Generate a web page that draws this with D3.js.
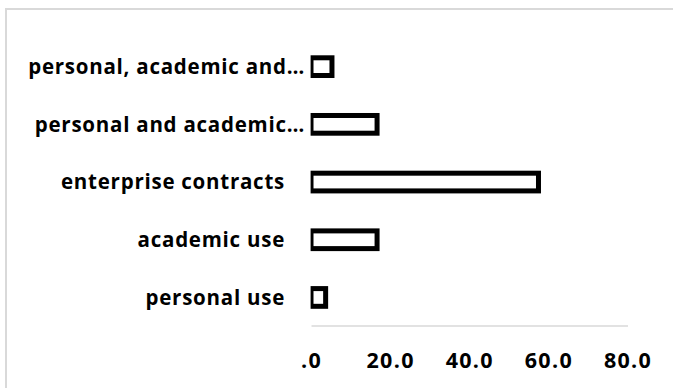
<!DOCTYPE html>
<html lang="en">
<head>
<meta charset="UTF-8">
<script src="https://d3js.org/d3.v7.min.js"></script>
<title>Usage types</title>
<style>
    body { margin: 0; background: white; }
    svg { display: block; }
    text { font-family: "Open Sans", sans-serif; font-weight: bold; fill: #000; }
</style>
</head>
<body>
<svg id="chart"></svg>
<script>
// categories top to bottom
const categories = [
    "personal, academic and…",
    "personal and academic…",
    "enterprise contracts",
    "academic use",
    "personal use"
];
const values = [5.3, 16.7, 57.5, 16.7, 3.7];
const tickValues = [0, 20, 40, 60, 80];
const tickLabels = [".0", "20.0", "40.0", "60.0", "80.0"];

const w = 673;
const h = 388;

const svg = d3.select("#chart").attr("width", w).attr("height", h);

svg.append("rect")
   .attr("width", w).attr("height", h)
   .attr("fill", "white");

// outer chart border (runs off the right and bottom of the picture)
svg.append("rect")
   .attr("x", 6).attr("y", 9)
   .attr("width", w + 20).attr("height", h + 20)
   .attr("fill", "none")
   .attr("stroke", "#d9d9d9")
   .attr("stroke-width", 2);

const x = d3.scaleLinear().domain([0, 80]).range([311, 627.5]);

const y = d3.scaleBand()
    .domain(categories)
    .range([37.8, 326.3])
    .paddingInner(0.693)
    .paddingOuter(0.3465);

// plot area clip, bars get cut at the left edge like the original
svg.append("clipPath").attr("id", "plot")
   .append("rect")
   .attr("x", x(0) - 0.4).attr("y", 0)
   .attr("width", w).attr("height", h);

const axis = d3.axisBottom(x)
    .tickValues(tickValues)
    .tickSize(0)
    .tickSizeOuter(0)
    .tickPadding(27)
    .tickFormat((d, i) => tickLabels[i]);

const gx = svg.append("g")
   .attr("transform", "translate(0," + (y.range()[1] - 0.8) + ")")
   .call(axis);
gx.select(".domain").attr("stroke", "#d9d9d9").attr("stroke-width", 1.5);
gx.selectAll("text")
   .attr("font-size", 21.5)
   .attr("font-family", null)
   .style("letter-spacing", "1.3px");

svg.append("g")
   .attr("clip-path", "url(#plot)")
   .selectAll("rect")
   .data(values)
   .enter()
   .append("rect")
   .attr("x", x(0))
   .attr("y", (d, i) => y(categories[i]))
   .attr("width", d => x(d) - x(0))
   .attr("height", y.bandwidth())
   .attr("fill", "white")
   .attr("stroke", "black")
   .attr("stroke-width", 5);

// labels: truncated ones sit closer to the axis
svg.append("g")
   .selectAll("text")
   .data(categories)
   .enter()
   .append("text")
   .attr("x", d => d.endsWith("…") ? x(0) - 6 : x(0) - 26)
   .attr("y", d => y(d) + y.bandwidth() / 2)
   .attr("dy", "0.36em")
   .attr("text-anchor", "end")
   .attr("font-size", 20.5)
   .style("letter-spacing", "0.75px")
   .text(d => d);
</script>
</body>
</html>
